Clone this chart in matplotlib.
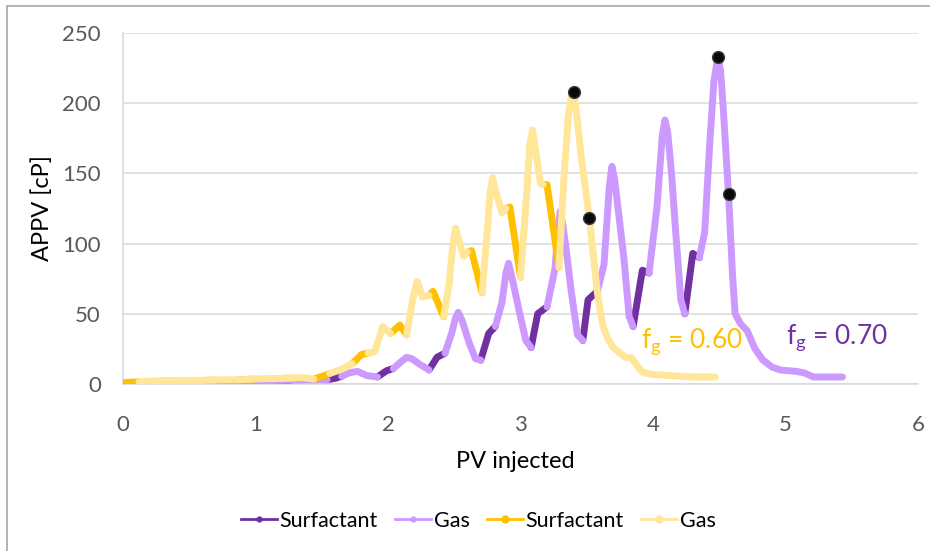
import numpy as np
import matplotlib
matplotlib.use("Agg")
import matplotlib.pyplot as plt
from matplotlib.lines import Line2D
from matplotlib.patches import Rectangle

# --- APPV history, fg = 0.70 (purple) ---
pv_70 = [0.00, 0.12, 0.25, 0.39, 0.50, 0.63, 0.77, 0.89, 1.02, 1.16, 1.27, 1.40, 1.54, 1.60,
         1.65, 1.71, 1.77, 1.84, 1.92, 1.99, 2.04, 2.10, 2.14, 2.18, 2.24, 2.31, 2.37, 2.43,
         2.48, 2.51, 2.53, 2.56, 2.61, 2.66, 2.70, 2.76, 2.81, 2.86, 2.89, 2.91, 2.94, 2.99,
         3.04, 3.08, 3.13, 3.20, 3.26, 3.28, 3.30, 3.32, 3.35, 3.38, 3.43, 3.47, 3.51, 3.58,
         3.63, 3.67, 3.69, 3.71, 3.74, 3.78, 3.82, 3.85, 3.92, 3.97, 4.03, 4.07, 4.09, 4.11,
         4.14, 4.17, 4.21, 4.24, 4.30, 4.35, 4.39, 4.43, 4.46, 4.49, 4.51, 4.53, 4.57, 4.60,
         4.62, 4.66, 4.71, 4.77, 4.83, 4.90, 4.96, 5.08, 5.14, 5.21, 5.30, 5.43]
appv_70 = [0.5, 1.0, 1.2, 1.5, 1.8, 1.9, 2.0, 2.3, 2.4, 2.5, 2.8, 2.9, 3.0, 4.0,
           5.5, 8.0, 9.0, 6.0, 5.0, 9.5, 11, 16, 19, 18, 14, 10, 19, 22,
           36, 47, 51, 45, 30, 18, 17, 36, 41, 58, 79, 86, 74, 52,
           31, 26, 50, 55, 82, 106, 123, 113, 92, 68, 35, 31, 60, 66,
           85, 140, 155, 146, 122, 90, 48, 41, 81, 79, 126, 177, 188, 180,
           150, 110, 60, 50, 93, 90, 108, 174, 216, 233, 223, 197, 135, 78,
           50, 43, 38, 25, 17, 12, 10, 9, 8, 5, 5, 5]
surf_start_70 = [0.00, 0.385, 0.77, 1.155, 1.54, 1.925, 2.31, 2.695, 3.08, 3.465, 3.85, 4.235]

# --- APPV history, fg = 0.60 (orange) ---
pv_60 = [0.00, 0.12, 0.20, 0.29, 0.40, 0.49, 0.58, 0.69, 0.78, 0.87, 0.98, 1.07, 1.15, 1.27,
         1.36, 1.44, 1.52, 1.56, 1.65, 1.73, 1.80, 1.85, 1.90, 1.94, 1.96, 1.98, 2.02, 2.09,
         2.14, 2.19, 2.22, 2.24, 2.26, 2.31, 2.34, 2.42, 2.46, 2.49, 2.51, 2.53, 2.57, 2.60,
         2.63, 2.71, 2.75, 2.77, 2.79, 2.81, 2.86, 2.89, 2.92, 3.00, 3.05, 3.07, 3.09, 3.11,
         3.15, 3.17, 3.20, 3.29, 3.33, 3.36, 3.38, 3.40, 3.42, 3.46, 3.52, 3.58, 3.62, 3.66,
         3.70, 3.79, 3.84, 3.88, 3.92, 3.98, 4.05, 4.20, 4.30, 4.47]
appv_60 = [1.0, 1.5, 2.0, 2.2, 2.5, 2.5, 2.5, 2.8, 3.0, 3.0, 3.5, 3.8, 3.8, 4.2,
           4.5, 3.5, 6.0, 7.5, 10.5, 14.5, 21, 22, 23, 35, 41, 39, 36, 42,
           35, 62, 73, 68, 62, 63, 66, 48, 70, 100, 111, 104, 91, 94,
           95, 65, 110, 136, 147, 138, 122, 125, 126, 76, 140, 170, 181, 169,
           143, 142, 142, 83, 150, 190, 203, 208, 196, 160, 118, 65, 42, 32,
           26, 19, 18.5, 13, 8.5, 7, 6.5, 5.5, 5, 5]
surf_start_60 = [0.00, 0.2885, 0.577, 0.8655, 1.154, 1.4425, 1.731, 2.0195, 2.308, 2.5965,
                 2.885, 3.1735]

slug_pv = 0.116  # surfactant slug size, PV

# highlighted points
dot_pv_60 = [3.40, 3.52]
dot_appv_60 = [208, 118]
dot_pv_70 = [4.49, 4.57]
dot_appv_70 = [233, 135]

C_SURF_70, C_GAS_70 = "#7030A0", "#CC99FF"
C_SURF_60, C_GAS_60 = "#FFC000", "#FFE699"


def split_slugs(pv, appv, starts, slug):
    pv = np.asarray(pv, float)
    appv = np.asarray(appv, float)
    mid = (pv[:-1] + pv[1:]) / 2
    in_surf = np.zeros(len(mid), bool)
    for s in starts:
        in_surf |= (mid >= s) & (mid < s + slug)
    surf = np.full(len(pv), np.nan)
    gas = np.full(len(pv), np.nan)
    for i, flag in enumerate(in_surf):
        tgt = surf if flag else gas
        tgt[i] = appv[i]
        tgt[i + 1] = appv[i + 1]
    return pv, surf, gas


plt.rcParams["font.family"] = ["Lato", "DejaVu Sans"]
plt.rcParams["mathtext.fontset"] = "custom"
plt.rcParams["mathtext.rm"] = "Lato"
plt.rcParams["mathtext.it"] = "Lato"

fig = plt.figure(figsize=(9.3, 5.51), dpi=100)
ax = fig.add_axes([123 / 930, 1 - 384 / 551, 795 / 930, 351 / 551])

lw = 5.0
x70, s70, g70 = split_slugs(pv_70, appv_70, surf_start_70, slug_pv)
x60, s60, g60 = split_slugs(pv_60, appv_60, surf_start_60, slug_pv)
kw = dict(lw=lw, solid_capstyle="round", solid_joinstyle="round")
ax.plot(x70, s70, color=C_SURF_70, zorder=3, **kw)
ax.plot(x70, g70, color=C_GAS_70, zorder=3, **kw)
ax.plot(x60, s60, color=C_SURF_60, zorder=4, **kw)
ax.plot(x60, g60, color=C_GAS_60, zorder=4, **kw)

dot_kw = dict(ls="none", marker="o", ms=8.5, mfc="#0a0a0a", mec="#3a3a3a", mew=1, zorder=6)
ax.plot(dot_pv_60, dot_appv_60, **dot_kw)
ax.plot(dot_pv_70, dot_appv_70, **dot_kw)

ax.text(4.29, 30, r"$\mathrm{f_g}$ = 0.60", color=C_SURF_60, fontsize=19,
        ha="center", va="center", zorder=7)
ax.text(5.39, 33, r"$\mathrm{f_g}$ = 0.70", color=C_SURF_70, fontsize=19,
        ha="center", va="center", zorder=7)

ax.set_xlim(0, 6)
ax.set_ylim(0, 250)
ax.set_xticks(range(0, 7))
ax.set_yticks(range(0, 251, 50))
ax.yaxis.grid(True, color="#D9D9D9", lw=1.1)
ax.set_axisbelow(True)
for side in ("top", "right"):
    ax.spines[side].set_visible(False)
for side in ("left", "bottom"):
    ax.spines[side].set_color("#D9D9D9")
    ax.spines[side].set_linewidth(1.1)
ax.tick_params(length=0, labelsize=16, labelcolor="#595959")
ax.tick_params(axis="x", pad=22)
ax.tick_params(axis="y", pad=16)

ax.set_xlabel("PV injected", fontsize=17, color="#000000")
ax.xaxis.set_label_coords((515 - 123) / 795, -(462 - 384) / 351)
ax.xaxis.label.set_va("center")
ax.set_ylabel("APPV [cP]", fontsize=17, color="#000000")
ax.yaxis.set_label_coords(-(123 - 42) / 795, (384 - 208) / 351)
ax.yaxis.label.set_va("center")

handles = [
    Line2D([], [], color=C_SURF_70, lw=2, marker="o", ms=3.5),
    Line2D([], [], color=C_GAS_70, lw=2, marker="o", ms=3.5),
    Line2D([], [], color=C_SURF_60, lw=2, marker="o", ms=5),
    Line2D([], [], color=C_GAS_60, lw=2, marker="o", ms=5),
]
fig.legend(handles, ["Surfactant", "Gas", "Surfactant", "Gas"], ncol=4, frameon=False,
           loc="center", bbox_to_anchor=(478 / 930, 1 - 521 / 551), fontsize=15.5,
           handlelength=1.7, handletextpad=0.1, columnspacing=0.8)

# outer frame
fig.patches.append(Rectangle((7 / 930, -0.05), 1.1, 1.05 - 6 / 551, transform=fig.transFigure,
                             fill=False, edgecolor="#A6A6A6", lw=1.2))

fig.savefig("out.png", dpi=100)
